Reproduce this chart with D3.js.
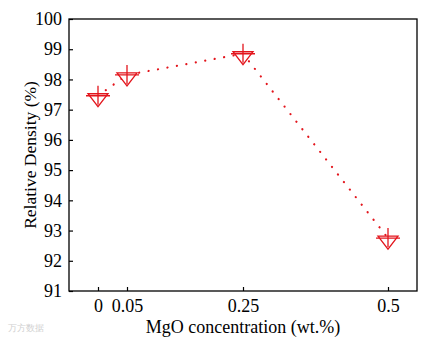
<!DOCTYPE html>
<html>
<head>
<meta charset="utf-8">
<script src="https://cdn.jsdelivr.net/npm/d3@7"></script>
<style>
  body { margin: 0; background: #fff; }
  svg text { font-family: "Liberation Serif", serif; }
</style>
</head>
<body>
<div id="my_dataviz"></div>
<script>
// data
var concentrations = [0, 0.05, 0.25, 0.5];
var densities = [97.46, 98.15, 98.85, 92.75];
var xTicks = [0, 0.05, 0.25, 0.5];
var xTickLabels = ["0", "0.05", "0.25", "0.5"];
var yTicks = [91, 92, 93, 94, 95, 96, 97, 98, 99, 100];

var serif = "Liberation Serif";

var margin = { top: 19, right: 7, bottom: 49, left: 69 },
  width = 424 - margin.left - margin.right,
  height = 340 - margin.top - margin.bottom;

var svg = d3.select("#my_dataviz")
  .append("svg")
  .attr("width", 424)
  .attr("height", 340)
  .attr("font-family", serif);

var g = svg.append("g")
  .attr("transform", "translate(" + margin.left + "," + margin.top + ")");

var x = d3.scaleLinear().domain([-0.05, 0.55]).range([0, width]);
var y = d3.scaleLinear().domain([91, 100]).range([height, 0]);

// frame
g.append("rect")
  .attr("width", width)
  .attr("height", height)
  .attr("fill", "none")
  .attr("stroke", "#000")
  .attr("stroke-width", 1.3);

// y axis (ticks inside)
var yAxis = g.append("g")
  .call(d3.axisLeft(y).tickValues(yTicks).tickSize(-4).tickSizeOuter(0).tickPadding(7).tickFormat(d3.format("d")));
yAxis.attr("font-family", serif).attr("font-size", 18);
yAxis.select(".domain").remove();
yAxis.selectAll("text").attr("font-family", serif).attr("font-size", 18).attr("fill", "#000");
yAxis.selectAll("line").attr("stroke-width", 1.2);

// x axis (ticks inside)
var xAxis = g.append("g")
  .attr("transform", "translate(0," + height + ")")
  .call(d3.axisBottom(x).tickValues(xTicks).tickSize(-4).tickSizeOuter(0).tickPadding(8)
    .tickFormat(function (d, i) { return xTickLabels[i]; }));
xAxis.attr("font-family", serif).attr("font-size", 18);
xAxis.select(".domain").remove();
xAxis.selectAll("text").attr("font-family", serif).attr("font-size", 18).attr("fill", "#000");
xAxis.selectAll("line").attr("stroke-width", 1.2);

// axis titles
svg.append("text")
  .attr("x", 243)
  .attr("y", 333)
  .attr("text-anchor", "middle")
  .attr("font-size", 18)
  .attr("font-family", serif)
  .text("MgO concentration (wt.%)");

svg.append("text")
  .attr("transform", "translate(36,155) rotate(-90)")
  .attr("text-anchor", "middle")
  .attr("font-size", 17.5)
  .attr("font-family", serif)
  .text("Relative Density (%)");

var red = "#e3151c";
var pts = concentrations.map(function (c, i) { return { c: c, v: densities[i] }; });

// dotted connecting line
g.append("path")
  .datum(pts)
  .attr("fill", "none")
  .attr("stroke", red)
  .attr("stroke-width", 2.2)
  .attr("stroke-linecap", "round")
  .attr("stroke-dasharray", "0.1,9.5")
  .attr("d", d3.line().x(function (d) { return x(d.c); }).y(function (d) { return y(d.v); }));

// markers: down triangle with a cross
var mk = g.selectAll(".mk")
  .data(pts)
  .enter().append("g")
  .attr("transform", function (d) { return "translate(" + x(d.c) + "," + y(d.v) + ")"; });

mk.append("path")
  .attr("d", "M-10,-2L10,-2L0,11Z")
  .attr("fill", "#fff")
  .attr("stroke", red)
  .attr("stroke-width", 1.3);
mk.append("path")
  .attr("d", "M-12,0H12M0,-10V9")
  .attr("stroke", red)
  .attr("stroke-width", 1.3);

// watermark
svg.append("text")
  .attr("x", 8)
  .attr("y", 331)
  .attr("font-size", 9)
  .attr("font-family", "Noto Sans CJK SC")
  .attr("fill", "#d0d0d0")
  .text("万方数据");
</script>
</body>
</html>
